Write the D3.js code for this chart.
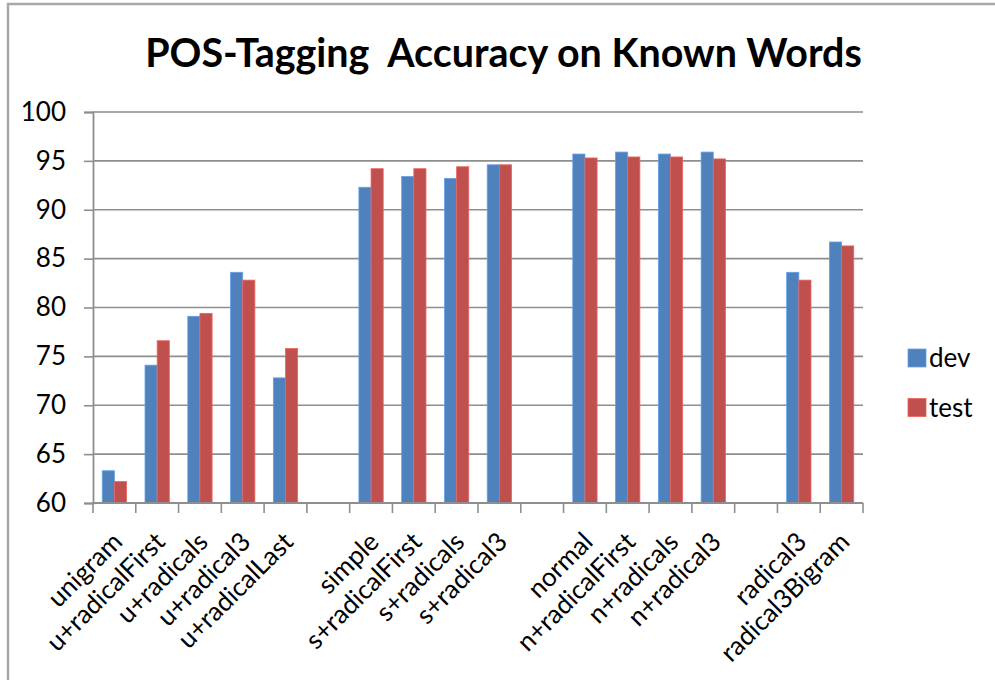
<!DOCTYPE html>
<html><head><meta charset="utf-8">
<script src="https://cdn.jsdelivr.net/npm/d3@7"></script>
<style>body{margin:0;background:#fff}svg{display:block}text{font-family:Lato,"Open Sans",sans-serif;fill:#000}</style>
</head><body>
<svg id="chart" width="995" height="680"></svg>
<script>
const categories = ["unigram","u+radicalFirst","u+radicals","u+radical3","u+radicalLast","",
  "simple","s+radicalFirst","s+radicals","s+radical3","",
  "normal","n+radicalFirst","n+radicals","n+radical3","",
  "radical3","radical3Bigram"];
const devValues  = [63.3,74.1,79.1,83.6,72.8,null,92.3,93.4,93.2,94.6,null,95.7,95.9,95.7,95.9,null,83.6,86.7];
const testValues = [62.2,76.6,79.4,82.8,75.8,null,94.2,94.2,94.4,94.6,null,95.3,95.4,95.4,95.2,null,82.8,86.3];
const seriesNames = ["dev","test"];
const seriesColors = ["#4F81BD","#C0504D"];
const yTicks = [60,65,70,75,80,85,90,95,100];
const title = "POS-Tagging  Accuracy on Known Words";

(function(){
const svg = d3.select("#chart");
const pLeft = 93, pRight = 863, pTop = 112, pBottom = 503;
const gridColor = "#8e8e8e";

// outer border
svg.append("rect").attr("x",8).attr("y",4).attr("width",1100).attr("height",800)
  .attr("fill","none").attr("stroke","#a8a8a8").attr("stroke-width",2.5);

// title
const t = svg.append("text").attr("x",503.5).attr("y",67)
  .attr("text-anchor","middle").attr("font-weight",700).attr("font-size",40)
  .style("white-space","pre").text(title);
const tw = t.node().getComputedTextLength();
t.attr("font-size", 40*717/tw);

const idx = categories.map((d,i)=>i);
const x = d3.scaleBand().domain(idx).range([pLeft,pRight]).padding(0);
const xs = d3.scaleBand().domain(seriesNames).range([0,x.bandwidth()]).paddingInner(0).paddingOuter(0.76);
const y = d3.scaleLinear().domain([60,100]).range([pBottom,pTop]);

// gridlines
svg.append("g").selectAll("line").data(yTicks.filter(v=>v>60)).join("line")
  .attr("x1",pLeft).attr("x2",pRight).attr("y1",d=>y(d)).attr("y2",d=>y(d))
  .attr("stroke",gridColor).attr("stroke-width",1.6);

// bars
const series = [devValues,testValues];
series.forEach((vals,si)=>{
  svg.append("g").selectAll("rect").data(vals.map((v,i)=>({v,i})).filter(d=>d.v!=null)).join("rect")
    .attr("x",d=>x(d.i)+xs(seriesNames[si]))
    .attr("width",xs.bandwidth())
    .attr("y",d=>y(d.v))
    .attr("height",d=>y(60)-y(d.v))
    .attr("fill",seriesColors[si])
    .attr("stroke",d3.color(seriesColors[si]).brighter(0.6)).attr("stroke-width",0.8);
});

// y axis
const yAxis = svg.append("g").attr("transform",`translate(${pLeft},0)`)
  .call(d3.axisLeft(y).tickValues(yTicks).tickSize(9).tickPadding(18).tickFormat(d3.format("d")));
yAxis.select(".domain").attr("stroke",gridColor).attr("stroke-width",1.8);
yAxis.selectAll(".tick line").attr("stroke",gridColor).attr("stroke-width",1.6);
yAxis.selectAll(".tick text").attr("font-size",26).attr("font-family","Lato").attr("fill","#000");

// x axis line and tick marks at slot boundaries
svg.append("line").attr("x1",pLeft).attr("x2",pRight).attr("y1",pBottom).attr("y2",pBottom)
  .attr("stroke",gridColor).attr("stroke-width",1.8);
const bounds = idx.map(i=>x(i)).concat([pRight]);
svg.append("g").selectAll("line").data(bounds).join("line")
  .attr("x1",d=>d).attr("x2",d=>d).attr("y1",pBottom).attr("y2",pBottom+10)
  .attr("stroke",gridColor).attr("stroke-width",1.6);

// x labels
svg.append("g").selectAll("text").data(idx.filter(i=>categories[i]!=="")).join("text")
  .attr("transform",i=>`translate(${x(i)+x.bandwidth()/2+3},${pBottom+34}) rotate(-45)`)
  .attr("text-anchor","end").attr("dy","0.35em").attr("font-size",26)
  .text(i=>categories[i]);

// legend
const lg = svg.append("g");
seriesNames.forEach((n,i)=>{
  const cy = 358 + i*49.5;
  lg.append("rect").attr("x",908).attr("y",cy-9).attr("width",18).attr("height",18)
    .attr("fill",seriesColors[i]).attr("stroke",d3.color(seriesColors[i]).brighter(0.6)).attr("stroke-width",0.8);
  lg.append("text").attr("x",929).attr("y",cy).attr("dy","0.35em").attr("font-size",26).text(n);
});
})();
</script>
</body></html>
